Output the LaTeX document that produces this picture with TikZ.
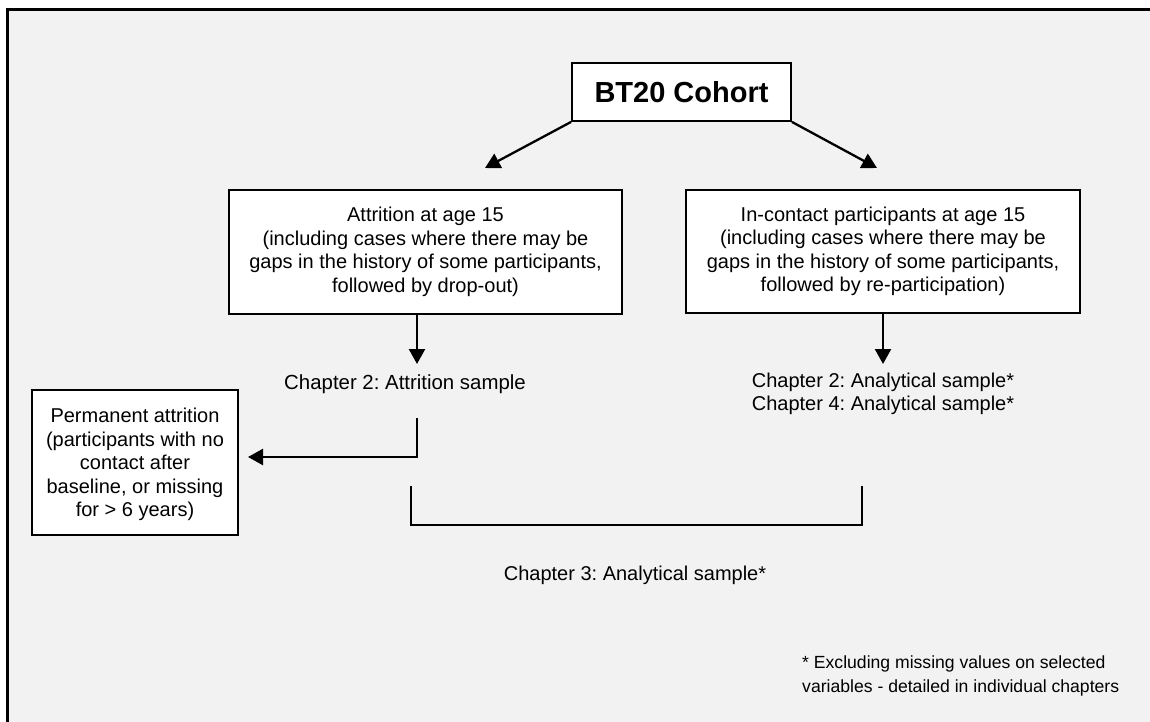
\documentclass[tikz,border=0pt]{standalone}
\usepackage{fontspec}
\setmainfont{Liberation Sans}
\usetikzlibrary{arrows.meta}
\definecolor{panel}{HTML}{F2F2F2}
\frenchspacing
\tikzset{
  box/.style={draw=black, line width=1.8pt, fill=white, align=center, inner sep=0pt,
              font=\fontsize{20}{23.5}\selectfont},
  label/.style={align=center, inner sep=0pt, font=\fontsize{20}{23.5}\selectfont},
  flow/.style={line width=2.3pt, -{Triangle[length=15pt,width=16pt]}},
  plain/.style={line width=2.3pt}
}
\begin{document}
\begin{tikzpicture}[x=1pt,y=-1pt]
\useasboundingbox (0,0) rectangle (1150,722);
\fill[white] (0,0) rectangle (1150,722);
% outer panel
\filldraw[fill=panel, draw=black, line width=3pt] (7,10) rectangle (1170,740);

% boxes
\node[box, minimum width=219pt, minimum height=58pt,
      font=\fontsize{29}{33}\bfseries] (cohort) at (681.5,92) {BT20 Cohort};
\node[box, minimum width=393pt, minimum height=124pt] (attr) at (425.5,252)
  {Attrition at age 15\\(including cases where there may be\\gaps in the history of some participants,\\followed by drop-out)};
\node[box, minimum width=394pt, minimum height=123pt] (contact) at (883,251.5)
  {In-contact participants at age 15\\(including cases where there may be\\gaps in the history of some participants,\\followed by re-participation)};
\node[box, minimum width=206pt, minimum height=145pt] (perm) at (135,462.5) {};
\node[label] (permtext) at (135,464.5)
  {Permanent attrition\\(participants with no\\contact after\\baseline, or missing\\for > 6 years)};

% plain labels
\node[label, font=\fontsize{20.4}{23.5}\selectfont] (ch2a) at (405,384) {Chapter 2: Attrition sample};
\node[label] (ch24) at (883,394) {Chapter 2: Analytical sample*\\Chapter 4: Analytical sample*};
\node[label] (ch3) at (635,575) {Chapter 3: Analytical sample*};
\node[label, align=left, anchor=west, font=\fontsize{17.6}{23.5}\selectfont] (note) at (802,676)
  {* Excluding missing values on selected\\variables - detailed in individual chapters};

% connector ends
\coordinate (tipL) at (485,168);
\coordinate (tipR) at (877,168);
\coordinate (attrOut) at (417,314);
\coordinate (attrIn) at (417,364);
\coordinate (contIn) at (883,364);
\coordinate (dropTop) at (417,418);
\coordinate (dropBend) at (417,457);
\coordinate (permIn) at (248,457);
\coordinate (brL) at (411,486);
\coordinate (brR) at (862,486);

% arrows
\draw[flow] (cohort.south west) -- (tipL);
\draw[flow] (cohort.south east) -- (tipR);
\draw[flow] (attrOut) -- (attrIn);
\draw[flow] (contact.south) -- (contIn);
\draw[flow] (dropTop) -- (dropBend) -- (permIn);
\draw[plain] (brL) -- (brL |- 0,525) -- (brR |- 0,525) -- (brR);
\end{tikzpicture}
\end{document}
